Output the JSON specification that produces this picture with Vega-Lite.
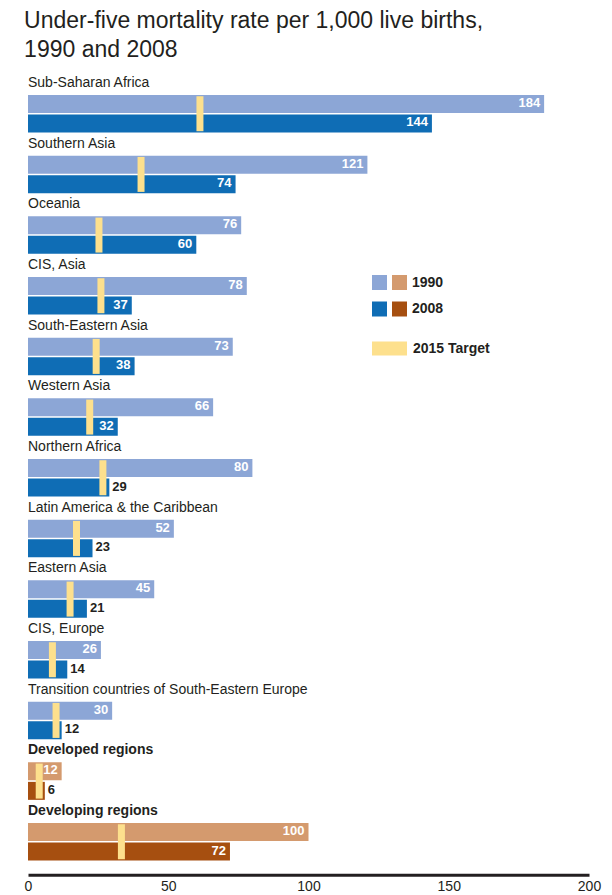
{
  "$schema": "https://vega.github.io/schema/vega-lite/v6.json",
  "width": 561,
  "height": 788.7,
  "autosize": {"type": "none"},
  "padding": {"left": 28, "top": 75, "right": 23, "bottom": 31.3},
  "title": {
    "text": ["Under-five mortality rate per 1,000 live births,", "1990 and 2008"],
    "anchor": "start",
    "font": "Liberation Sans",
    "fontSize": 23,
    "fontWeight": "normal",
    "color": "#231f20",
    "lineHeight": 29,
    "offset": 13
  },
  "config": {"view": {"stroke": null}, "font": "Liberation Sans"},
  "datasets": {
    "bars": [
      {"region": "Sub-Saharan Africa", "kind": "regional", "year": "1990", "value": 184},
      {"region": "Sub-Saharan Africa", "kind": "regional", "year": "2008", "value": 144},
      {"region": "Southern Asia", "kind": "regional", "year": "1990", "value": 121},
      {"region": "Southern Asia", "kind": "regional", "year": "2008", "value": 74},
      {"region": "Oceania", "kind": "regional", "year": "1990", "value": 76},
      {"region": "Oceania", "kind": "regional", "year": "2008", "value": 60},
      {"region": "CIS, Asia", "kind": "regional", "year": "1990", "value": 78},
      {"region": "CIS, Asia", "kind": "regional", "year": "2008", "value": 37},
      {"region": "South-Eastern Asia", "kind": "regional", "year": "1990", "value": 73},
      {"region": "South-Eastern Asia", "kind": "regional", "year": "2008", "value": 38},
      {"region": "Western Asia", "kind": "regional", "year": "1990", "value": 66},
      {"region": "Western Asia", "kind": "regional", "year": "2008", "value": 32},
      {"region": "Northern Africa", "kind": "regional", "year": "1990", "value": 80},
      {"region": "Northern Africa", "kind": "regional", "year": "2008", "value": 29},
      {"region": "Latin America & the Caribbean", "kind": "regional", "year": "1990", "value": 52},
      {"region": "Latin America & the Caribbean", "kind": "regional", "year": "2008", "value": 23},
      {"region": "Eastern Asia", "kind": "regional", "year": "1990", "value": 45},
      {"region": "Eastern Asia", "kind": "regional", "year": "2008", "value": 21},
      {"region": "CIS, Europe", "kind": "regional", "year": "1990", "value": 26},
      {"region": "CIS, Europe", "kind": "regional", "year": "2008", "value": 14},
      {"region": "Transition countries of South-Eastern Europe", "kind": "regional", "year": "1990", "value": 30},
      {"region": "Transition countries of South-Eastern Europe", "kind": "regional", "year": "2008", "value": 12},
      {"region": "Developed regions", "kind": "aggregate", "year": "1990", "value": 12},
      {"region": "Developed regions", "kind": "aggregate", "year": "2008", "value": 6},
      {"region": "Developing regions", "kind": "aggregate", "year": "1990", "value": 100},
      {"region": "Developing regions", "kind": "aggregate", "year": "2008", "value": 72}
    ],
    "regions": [
      {"region": "Sub-Saharan Africa", "kind": "regional", "target": 61.3},
      {"region": "Southern Asia", "kind": "regional", "target": 40.3},
      {"region": "Oceania", "kind": "regional", "target": 25.3},
      {"region": "CIS, Asia", "kind": "regional", "target": 26},
      {"region": "South-Eastern Asia", "kind": "regional", "target": 24.3},
      {"region": "Western Asia", "kind": "regional", "target": 22},
      {"region": "Northern Africa", "kind": "regional", "target": 26.7},
      {"region": "Latin America & the Caribbean", "kind": "regional", "target": 17.3},
      {"region": "Eastern Asia", "kind": "regional", "target": 15},
      {"region": "CIS, Europe", "kind": "regional", "target": 8.7},
      {"region": "Transition countries of South-Eastern Europe", "kind": "regional", "target": 10},
      {"region": "Developed regions", "kind": "aggregate", "target": 4},
      {"region": "Developing regions", "kind": "aggregate", "target": 33.3}
    ]
  },
  "encoding": {
    "y": {
      "field": "region",
      "type": "nominal",
      "sort": null,
      "scale": {
        "domain": ["Sub-Saharan Africa", "Southern Asia", "Oceania", "CIS, Asia", "South-Eastern Asia", "Western Asia", "Northern Africa", "Latin America & the Caribbean", "Eastern Asia", "CIS, Europe", "Transition countries of South-Eastern Europe", "Developed regions", "Developing regions"],
        "paddingInner": 0,
        "paddingOuter": 0
      },
      "axis": null
    }
  },
  "layer": [
    {
      "data": {"name": "bars"},
      "transform": [{"calculate": "datum.year + ' ' + datum.kind", "as": "key"}],
      "mark": {"type": "bar"},
      "encoding": {
        "x": {
          "field": "value",
          "type": "quantitative",
          "scale": {"domain": [0, 200], "nice": false},
          "axis": {
            "title": null,
            "values": [0, 50, 100, 150, 200],
            "ticks": false,
            "tickSize": 0,
            "grid": false,
            "domainWidth": 3,
            "domainColor": "#231f20",
            "labelFont": "Liberation Sans",
            "labelFontSize": 14,
            "labelColor": "#231f20",
            "labelPadding": 5,
            "labelFlush": false,
            "offset": 11
          }
        },
        "yOffset": {
          "field": "year",
          "type": "nominal",
          "scale": {"domain": ["1990", "2008"], "paddingInner": 0.077, "paddingOuter": 0.594, "align": 0.863}
        },
        "color": {
          "field": "key",
          "type": "nominal",
          "scale": {
            "domain": ["1990 regional", "2008 regional", "1990 aggregate", "2008 aggregate"],
            "range": ["#8ca6d6", "#0f6db5", "#d49a6e", "#a64f10"]
          },
          "legend": {
            "title": null,
            "orient": "none",
            "legendX": 344,
            "legendY": 200,
            "columns": 2,
            "padding": 0,
            "symbolType": "square",
            "symbolSize": 225,
            "symbolStrokeWidth": 0,
            "symbolOpacity": 1,
            "labelExpr": "datum.label == '1990 aggregate' ? '1990' : (datum.label == '2008 aggregate' ? '2008' : '')",
            "labelFont": "Liberation Sans",
            "labelFontSize": 14,
            "labelFontWeight": "bold",
            "labelColor": "#231f20",
            "labelOffset": 5,
            "columnPadding": 0,
            "rowPadding": 11.5
          }
        }
      }
    },
    {
      "data": {"name": "regions"},
      "mark": {"type": "tick", "thickness": 7, "size": 35, "yOffset": 8.4, "opacity": 1},
      "encoding": {
        "x": {"field": "target", "type": "quantitative"},
        "fill": {
          "datum": "2015 Target",
          "type": "nominal",
          "scale": {"range": ["#fde08d"]},
          "legend": {
            "title": null,
            "orient": "none",
            "legendX": 344,
            "legendY": 256,
            "padding": 0,
            "symbolType": "M-1,-0.4H1V0.4H-1Z",
            "symbolSize": 1225,
            "symbolStrokeWidth": 0,
            "symbolOpacity": 1,
            "labelFont": "Liberation Sans",
            "labelFontSize": 14,
            "labelFontWeight": "bold",
            "labelColor": "#231f20",
            "labelOffset": 6
          }
        }
      }
    },
    {
      "data": {"name": "regions"},
      "transform": [{"filter": "datum.kind == 'regional'"}],
      "mark": {"type": "text", "align": "left", "baseline": "alphabetic", "dy": -18.3, "fontSize": 14, "color": "#231f20", "font": "Liberation Sans"},
      "encoding": {
        "x": {"datum": 0, "type": "quantitative"},
        "text": {"field": "region"}
      }
    },
    {
      "data": {"name": "regions"},
      "transform": [{"filter": "datum.kind == 'aggregate'"}],
      "mark": {"type": "text", "align": "left", "baseline": "alphabetic", "dy": -18.3, "fontSize": 14, "fontWeight": "bold", "color": "#231f20", "font": "Liberation Sans"},
      "encoding": {
        "x": {"datum": 0, "type": "quantitative"},
        "text": {"field": "region"}
      }
    },
    {
      "data": {"name": "bars"},
      "transform": [{"filter": "datum.year == '1990' || datum.value >= 30"}],
      "mark": {"type": "text", "align": "right", "baseline": "middle", "dx": -4, "dy": -1, "fontSize": 13, "fontWeight": "bold", "color": "#ffffff", "font": "Liberation Sans"},
      "encoding": {
        "x": {"field": "value", "type": "quantitative"},
        "yOffset": {"field": "year", "type": "nominal"},
        "text": {"field": "value", "type": "quantitative"}
      }
    },
    {
      "data": {"name": "bars"},
      "transform": [{"filter": "datum.year == '2008' && datum.value < 30"}],
      "mark": {"type": "text", "align": "left", "baseline": "middle", "dx": 3, "dy": -1, "fontSize": 13, "fontWeight": "bold", "color": "#231f20", "font": "Liberation Sans"},
      "encoding": {
        "x": {"field": "value", "type": "quantitative"},
        "yOffset": {"field": "year", "type": "nominal"},
        "text": {"field": "value", "type": "quantitative"}
      }
    }
  ]
}
